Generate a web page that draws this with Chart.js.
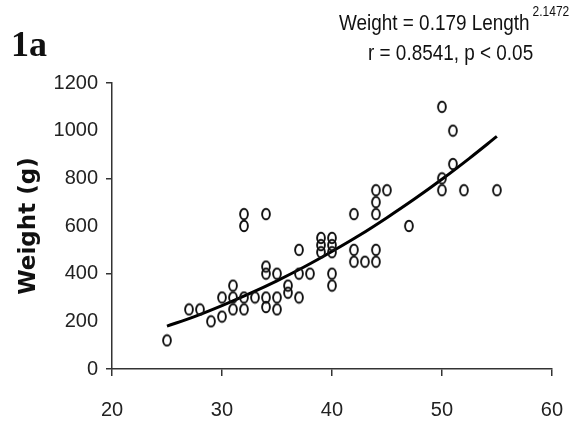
<!DOCTYPE html>
<html>
<head>
<meta charset="utf-8">
<script src="https://cdn.jsdelivr.net/npm/chart.js@4.4.1/dist/chart.umd.min.js"></script>
<style>
  html, body { margin: 0; padding: 0; background: #fff; }
  #wrap { width: 585px; height: 426px; position: relative; }
</style>
</head>
<body>
<div id="wrap"><canvas id="fig1a"></canvas></div>
<script>
// fish length (cm) vs weight (g), one entry per fish
var lengths = [25, 27, 28, 29, 30, 30, 31, 31, 31, 32, 32, 32, 32, 33,
               34, 34, 34, 34, 34, 35, 35, 35, 36, 36, 37, 37, 37, 38,
               39, 39, 39, 40, 40, 40, 40, 40, 42, 42, 42, 43,
               44, 44, 44, 44, 44, 45, 47, 50, 50, 50, 51, 51, 52, 55];
var weights = [120, 250, 250, 200, 300, 220, 350, 300, 250, 650, 600, 300, 250, 300,
               650, 430, 400, 300, 260, 400, 300, 250, 350, 320, 500, 400, 300, 400,
               550, 520, 490, 550, 520, 490, 400, 350, 650, 500, 450, 450,
               750, 700, 650, 500, 450, 750, 600, 1100, 800, 750, 1000, 860, 750, 750];

// fitted power curve W = 0.179 L^2.1472, sampled along the length range
var curveLengths = [25, 27.5, 30, 32.5, 35, 37.5, 40, 42.5, 45, 47.5, 50, 52.5, 55];
var curveWeights = [180, 220, 266, 316, 370, 429, 493, 561, 635, 713, 796, 884, 976];

var xTicks = [20, 30, 40, 50, 60];
var yMax = 1200;

var sans = "'Liberation Sans', Arial, sans-serif";

var pts = [];
for (var i = 0; i < lengths.length; i++) pts.push({x: lengths[i], y: weights[i]});
var curve = [];
for (var j = 0; j < curveLengths.length; j++) curve.push({x: curveLengths[j], y: curveWeights[j]});

// open "o" marker, a little taller than wide
function makeMarker(){
  var c = document.createElement('canvas');
  c.width = 12; c.height = 14;
  var g = c.getContext('2d');
  g.strokeStyle = '#111';
  g.lineWidth = 1.9;
  g.beginPath();
  g.ellipse(6, 7, 3.9, 5.2, 0, 0, Math.PI*2);
  g.stroke();
  return c;
}

// squeezed text, the figure uses a narrow face
function narrowText(ctx, txt, x, y, size, squeeze){
  ctx.save();
  ctx.font = size + 'px ' + sans;
  ctx.translate(x, y);
  ctx.scale(squeeze, 1);
  ctx.fillText(txt, 0, 0);
  var w = ctx.measureText(txt).width * squeeze;
  ctx.restore();
  return w;
}

// panel label and regression text
var annotate = {
  id: 'annotate',
  afterDraw: function(chart){
    var ctx = chart.ctx;
    ctx.save();
    ctx.fillStyle = '#111';
    ctx.textBaseline = 'alphabetic';
    ctx.textAlign = 'left';
    ctx.font = "bold 36px 'Liberation Serif', serif";
    ctx.fillText('1a', 11, 56);

    var w1 = narrowText(ctx, 'Weight = 0.179 Length', 339, 30, 22, 0.86);
    narrowText(ctx, '2.1472', 339 + w1 + 3, 16, 15, 0.8);
    narrowText(ctx, 'r = 0.8541, p < 0.05', 368, 60, 22, 0.86);
    ctx.restore();
  }
};

var ctx = document.getElementById('fig1a').getContext('2d');
var chart = new Chart(ctx, {
  type: 'scatter',
  data: {
    datasets: [
      {
        label: 'fish',
        data: pts,
        pointStyle: makeMarker(),
        pointRadius: 5,
        showLine: false
      },
      {
        label: 'fit',
        type: 'line',
        data: curve,
        borderColor: '#000',
        borderWidth: 3,
        pointRadius: 0,
        fill: false,
        cubicInterpolationMode: 'monotone'
      }
    ]
  },
  options: {
    responsive: true,
    maintainAspectRatio: false,
    animation: false,
    layout: { padding: { top: 83, right: 30, left: 0, bottom: 0 } },
    plugins: {
      legend: { display: false },
      tooltip: { enabled: false }
    },
    scales: {
      x: {
        type: 'linear',
        min: xTicks[0],
        max: xTicks[xTicks.length - 1],
        afterBuildTicks: function(axis){
          axis.ticks = xTicks.map(function(v){ return {value: v}; });
        },
        afterFit: function(axis){ axis.height = 57; },
        border: { display: true, color: '#333', width: 1.5 },
        grid: { drawOnChartArea: false, drawTicks: true, tickLength: 7, color: '#333', lineWidth: 1.5 },
        ticks: { color: '#222', padding: 22, font: { family: sans, size: 20 },
                 callback: function(v){ return String(v); } }
      },
      y: {
        min: 0,
        max: yMax,
        ticks: { stepSize: 200, color: '#222', padding: 8, font: { family: sans, size: 20 },
                 callback: function(v){ return String(v); } },
        afterFit: function(axis){ axis.width = 112; },
        border: { display: true, color: '#333', width: 1.5 },
        grid: {
          drawOnChartArea: false,
          drawTicks: true,
          tickLength: 6,
          lineWidth: 1.5,
          // tick marks only every 400 g
          color: function(c){ return (c.tick && c.tick.value % 400 === 0) ? '#333' : 'rgba(0,0,0,0)'; }
        },
        title: {
          display: true,
          text: 'Weight (g)',
          color: '#111',
          padding: { top: 15, bottom: 0 },
          font: { family: "'DejaVu Sans', sans-serif", weight: 'bold', size: 23 }
        }
      }
    }
  },
  plugins: [annotate]
});
</script>
</body>
</html>
